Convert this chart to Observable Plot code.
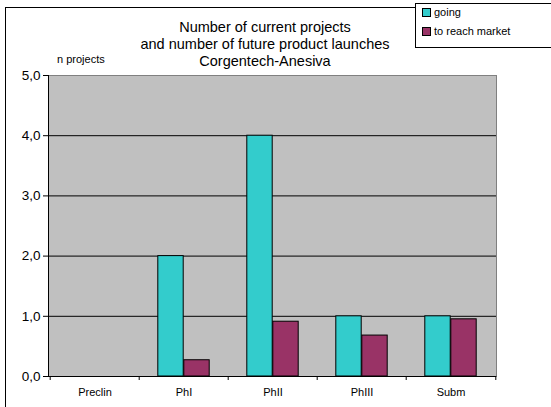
<!DOCTYPE html>
<html>
<head>
<meta charset="utf-8">
<script src="https://cdn.jsdelivr.net/npm/d3@7"></script>
<script src="https://cdn.jsdelivr.net/npm/@observablehq/plot@0.6"></script>
<style>
  html, body { margin: 0; padding: 0; background: #fff; }
  #wrap { position: relative; width: 551px; height: 407px; overflow: hidden; font-family: "Liberation Sans", Arial, sans-serif; }
  #border { position: absolute; left: 5px; top: 7px; width: 600px; height: 450px; border: 1px solid #000; }
  #chart { position: absolute; left: 0; top: 0; }
  #title { position: absolute; left: 100px; top: 19px; width: 330px; text-align: center; font-size: 14.5px; line-height: 17px; color: #000; }
  #ylab { position: absolute; left: 57px; top: 53px; font-size: 11px; color: #000; }
  #legend { position: absolute; left: 415px; top: 3px; width: 150px; height: 43px; border: 1px solid #000; background: #fff; font-size: 11px; }
  .item { position: absolute; left: 6px; display: flex; align-items: center; white-space: nowrap; }
  .sw { width: 7px; height: 7px; border: 1px solid #000; margin-right: 3px; }
</style>
</head>
<body>
<div id="wrap">
  <div id="border"></div>
  <div id="chart"></div>
  <div id="title">Number of current projects<br>and number of future product launches<br>Corgentech-Anesiva</div>
  <div id="ylab">n projects</div>
  <div id="legend"></div>
</div>
<script>
const categories = ["Preclin", "PhI", "PhII", "PhIII", "Subm"];
const seriesNames = ["going", "to reach market"];
const going = [0, 2, 4, 1, 1];
const reachMarket = [0, 0.27, 0.91, 0.68, 0.95];
const yTicks = [0, 1, 2, 3, 4, 5];
const colors = ["#33CCCC", "#993366"];

const W = 551, H = 407;
const mL = 48, mR = 55, mT = 75, mB = 31;
const band = (W - mL - mR) / categories.length;
const barW = 26;

const dGoing = categories.map((c, i) => ({stage: c, value: going[i]})).filter(d => d.value > 0);
const dReach = categories.map((c, i) => ({stage: c, value: reachMarket[i]})).filter(d => d.value > 0);

const fmt = d => d.toFixed(1).replace(".", ",");

const plot = Plot.plot({
  width: W, height: H,
  marginLeft: mL, marginRight: mR, marginTop: mT, marginBottom: mB,
  style: {fontFamily: "Liberation Sans, Arial, sans-serif", background: "transparent", color: "#000"},
  x: {domain: categories, padding: 0},
  y: {domain: [0, 5]},
  marks: [
    Plot.frame({fill: "#C0C0C0", stroke: "#808080"}),
    Plot.frame({anchor: "left", stroke: "#000"}),
    Plot.gridY([1, 2, 3, 4], {stroke: "#000", strokeOpacity: 1}),
    Plot.barY(dGoing, {x: "stage", y: "value", fill: colors[0], stroke: "#000", strokeWidth: 1,
      insetLeft: band / 2 - barW, insetRight: band / 2}),
    Plot.barY(dReach, {x: "stage", y: "value", fill: colors[1], stroke: "#000", strokeWidth: 1,
      insetLeft: band / 2, insetRight: band / 2 - barW}),
    Plot.ruleY([0], {stroke: "#000"}),
    Plot.axisY({ticks: yTicks, tickSize: 5, tickPadding: 3, tickFormat: fmt, fontSize: 13.5, stroke: "#000", label: null}),
    Plot.axisX({ticks: categories, tickSize: 4, dx: -band / 2, tickFormat: () => "", stroke: "#000", label: null}),
    Plot.axisX({ticks: categories.slice(-1), tickSize: 4, dx: band / 2, tickFormat: () => "", stroke: "#000", label: null}),
    Plot.axisX({ticks: categories, tickSize: 0, tickPadding: 12, fontSize: 11, label: null})
  ]
});
document.getElementById("chart").appendChild(plot);

const legend = document.getElementById("legend");
seriesNames.forEach((name, i) => {
  const it = document.createElement("div");
  it.className = "item";
  it.style.top = (i === 0 ? 2 : 21) + "px";
  const sw = document.createElement("span");
  sw.className = "sw";
  sw.style.background = colors[i];
  it.appendChild(sw);
  it.appendChild(document.createTextNode(name));
  legend.appendChild(it);
});
</script>
</body>
</html>
